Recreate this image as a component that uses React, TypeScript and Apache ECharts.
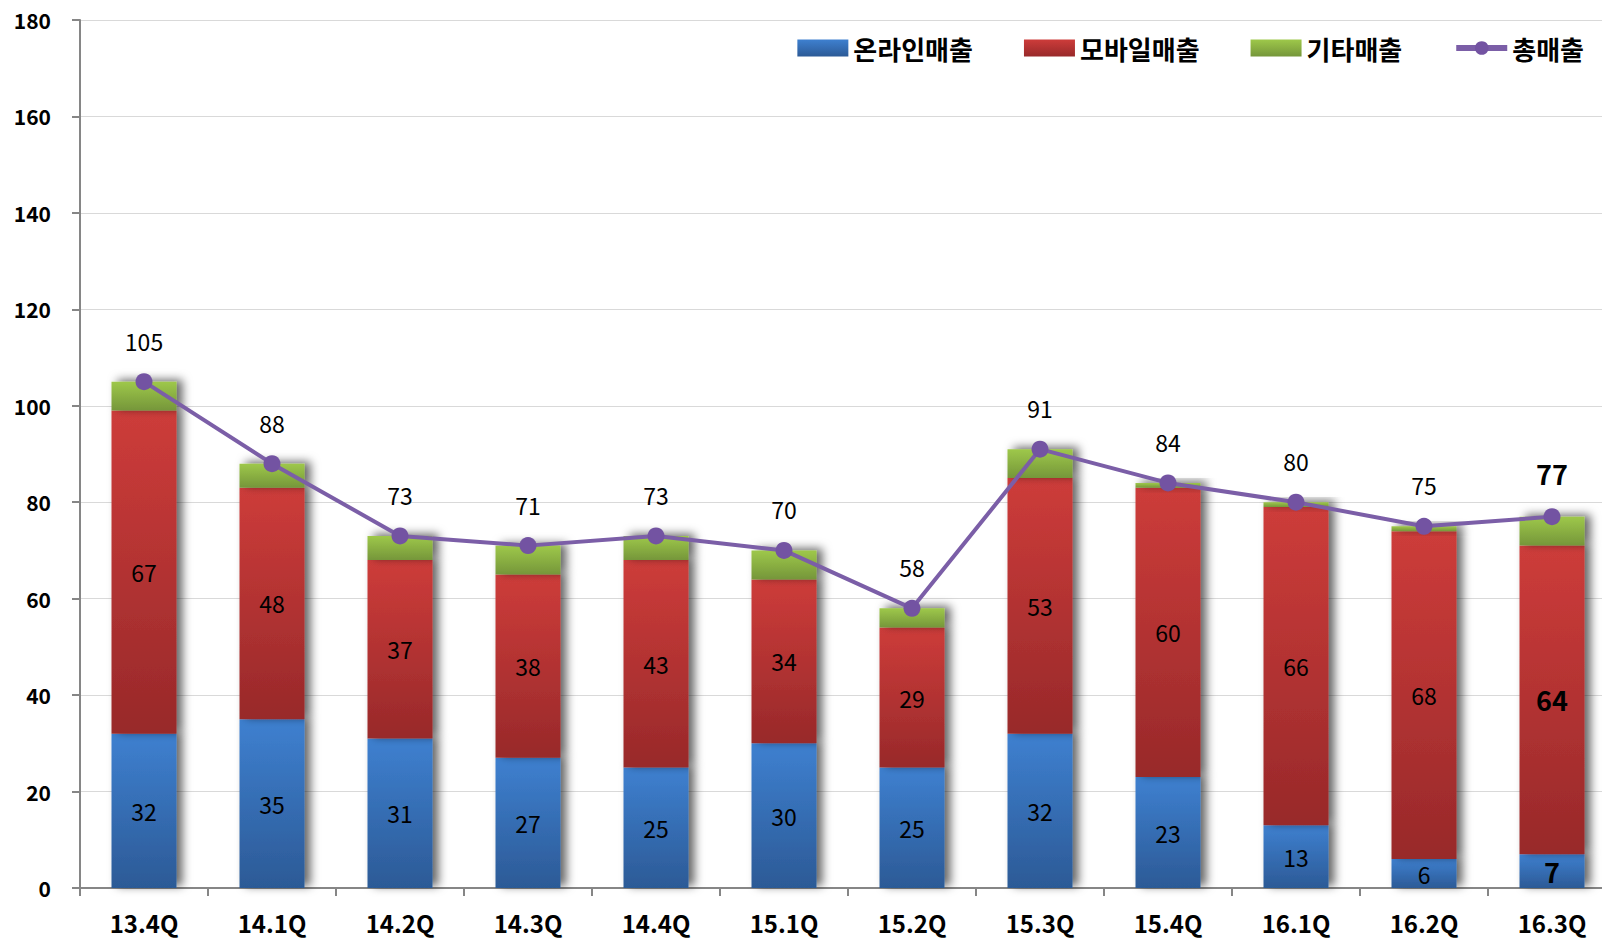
import React, { useEffect, useRef } from "react";
import * as echarts from "echarts";

const categories = ["13.4Q", "14.1Q", "14.2Q", "14.3Q", "14.4Q", "15.1Q", "15.2Q", "15.3Q", "15.4Q", "16.1Q", "16.2Q", "16.3Q"];
const online = [32, 35, 31, 27, 25, 30, 25, 32, 23, 13, 6, 7];
const mobile = [67, 48, 37, 38, 43, 34, 29, 53, 60, 66, 68, 64];
const other = [6, 5, 5, 6, 5, 6, 4, 6, 1, 1, 1, 6];
const total = [105, 88, 73, 71, 73, 70, 58, 91, 84, 80, 75, 77];
const seriesNames = ["온라인매출", "모바일매출", "기타매출", "총매출"];

const FONT = "'Noto Sans CJK KR', 'Noto Sans', sans-serif";

const grad = (top: string, bottom: string) => ({
  type: "linear",
  x: 0,
  y: 0,
  x2: 0,
  y2: 1,
  colorStops: [
    { offset: 0, color: top },
    { offset: 1, color: bottom },
  ],
});

const barShadow = {
  shadowBlur: 10,
  shadowOffsetX: 6,
  shadowOffsetY: -2,
  shadowColor: "rgba(0,0,0,0.6)",
};

const lastIdx = categories.length - 1;

function withLastBold(values: number[], boldSize: number) {
  return values.map((v, i) =>
    i === lastIdx
      ? { value: v, label: { fontWeight: "bold", fontSize: boldSize } }
      : { value: v }
  );
}

export default function App() {
  const ref = useRef<HTMLDivElement>(null);
  useEffect(() => {
    if (!ref.current) return;
    const chart = echarts.init(ref.current, null, { renderer: "svg" });
    const insideLabel = {
      show: true,
      position: "inside",
      color: "#000",
      fontSize: 23,
      fontFamily: FONT,
    };
    chart.setOption({
      animation: false,
      backgroundColor: "#fff",
      textStyle: { fontFamily: FONT },
      legend: {
        right: 27,
        top: 30,
        itemWidth: 51,
        itemHeight: 17,
        itemGap: 51,
        textStyle: { fontSize: 26, fontWeight: "bold", color: "#000", fontFamily: FONT },
        data: [
          { name: seriesNames[0], icon: "rect" },
          { name: seriesNames[1], icon: "rect" },
          { name: seriesNames[2], icon: "rect" },
          { name: seriesNames[3], lineStyle: { width: 6 } },
        ],
      },
      grid: { left: 80, right: 0, top: 20, bottom: 52, containLabel: false },
      xAxis: {
        type: "category",
        data: categories,
        axisLine: { lineStyle: { color: "#868686", width: 2 } },
        axisTick: { show: true, length: 8, interval: 0, lineStyle: { color: "#868686", width: 2 } },
        axisLabel: { fontSize: 24, fontWeight: "bold", color: "#000", margin: 22, interval: 0, fontFamily: FONT },
      },
      yAxis: {
        type: "value",
        min: 0,
        max: 180,
        interval: 20,
        axisLine: { show: true, lineStyle: { color: "#868686", width: 2 } },
        axisTick: { show: true, length: 8, lineStyle: { color: "#868686", width: 2 } },
        axisLabel: { fontSize: 21, fontWeight: "bold", color: "#000", margin: 29, fontFamily: FONT },
        splitLine: { lineStyle: { color: "#d9d9d9", width: 1 } },
      },
      series: [
        {
          name: seriesNames[0],
          type: "bar",
          stack: "s",
          barWidth: 65,
          data: withLastBold(online, 27),
          label: insideLabel,
          itemStyle: { color: grad("#3e80d0", "#2c5a96"), ...barShadow },
        },
        {
          name: seriesNames[1],
          type: "bar",
          stack: "s",
          barWidth: 65,
          data: withLastBold(mobile, 27),
          label: insideLabel,
          itemStyle: { color: grad("#cd3c3a", "#98292a"), ...barShadow },
        },
        {
          name: seriesNames[2],
          type: "bar",
          stack: "s",
          barWidth: 65,
          data: other,
          itemStyle: { color: grad("#9ec84a", "#75963a"), ...barShadow },
        },
        {
          name: seriesNames[3],
          type: "line",
          data: withLastBold(total, 27),
          symbol: "circle",
          symbolSize: 17,
          z: 10,
          lineStyle: { color: "#7b5ea7", width: 4 },
          itemStyle: { color: "#7353a2" },
          label: {
            show: true,
            position: "top",
            distance: 21,
            color: "#000",
            fontSize: 23,
            fontFamily: FONT,
          },
        },
      ],
    });
    return () => chart.dispose();
  }, []);
  return (
    <div style={{ position: "absolute", left: 0, top: 0, width: 1602, height: 940, overflow: "hidden" }}>
      <div ref={ref} style={{ width: 1616, height: 940 }} />
    </div>
  );
}
